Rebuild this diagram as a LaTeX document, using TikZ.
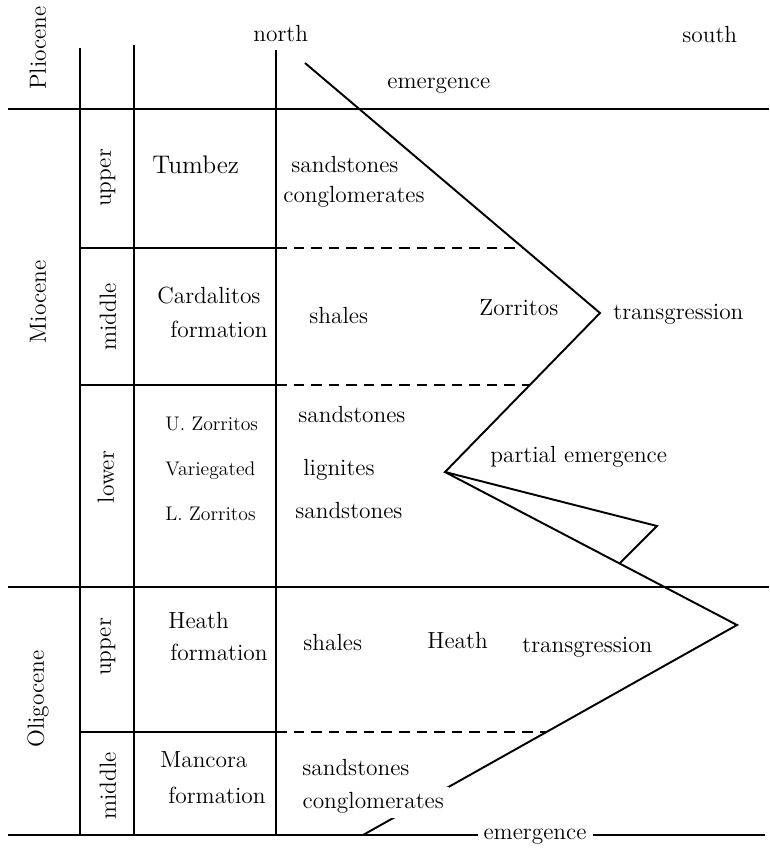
\documentclass[tikz,border=0pt]{standalone}
\usepackage{tikz}
\usetikzlibrary{positioning, calc}

\begin{document}
\begin{tikzpicture}[x=0.02cm, y=-0.02cm,
		rule/.style={line width=1.3pt},
		split/.style={line width=0.8pt, dash pattern=on 6pt off 4pt},
		curve/.style={line width=1.1pt, line join=miter},
		lbl/.style={anchor=base west, inner sep=0pt, font=\fontsize{13.3}{15}\selectfont},
		sml/.style={lbl, font=\fontsize{11.2}{13}\selectfont},
		side/.style={rotate=90, inner sep=0pt, font=\fontsize{13.3}{15}\selectfont}]

		\useasboundingbox (0,0) rectangle (769,849);

		% frame
		\draw[rule] (8,109) -- (769,109);
		\draw[rule] (8,587) -- (769,587);
		\draw[rule] (80,48) -- (80,835);
		\draw[rule] (134,45) -- (134,835);
		\draw[rule] (276,50) -- (276,835);
		\draw[rule] (80,248) -- (276,248);
		\draw[rule] (80,385) -- (276,385);
		\draw[rule] (80,732) -- (276,732);

		% zig-zag
		\coordinate (z0) at (305,63);
		\coordinate (z1) at (600,313);
		\coordinate (z2) at (445,472);
		\coordinate (z3) at (657,526);
		\coordinate (z4) at (620,563);
		\coordinate (z5) at (737,625);
		\coordinate (z6) at (363,835);

		\draw[split] (276,248) -- (523,248);
		\draw[split] (276,385) -- (530,385);
		\draw[split] (276,732) -- (546,732);

		\draw[curve] (z0) -- (z1) -- (z2) -- (z3) -- (z4);
		\draw[curve] (z2) -- (z5) -- (z6);

		% ages
		\node[side] (plio) at (38,48) {Pliocene};
		\node[side] (mio) at (38,302) {Miocene};
		\node[side] (oligo) at (38,699) {Oligocene};
		\node[side] (mioup) at (108,178) {upper};
		\node[side] (miomid) at (108,317) {middle};
		\node[side] (miolow) at (106,477) {lower};
		\node[side] (oliup) at (108,647) {upper};
		\node[side] (olimid) at (108,786) {middle};

		% formations
		\node[lbl, font=\fontsize{14.5}{16}\selectfont] (tumbez) at (152,173) {Tumbez};
		\node[lbl] (card) at (157,303) {Cardalitos};
		\node[lbl] (cardf) at (170,337) {formation};
		\node[sml] (uzor) at (165,430) {U. Zorritos};
		\node[sml] (vari) at (165,475) {Variegated};
		\node[sml] (lzor) at (165,520) {L. Zorritos};
		\node[lbl] (heath) at (168,628) {Heath};
		\node[lbl] (heathf) at (170,660) {formation};
		\node[lbl] (manc) at (160,767) {Mancora};
		\node[lbl] (mancf) at (168,803) {formation};

		% rocks
		\node[lbl] (north) at (253,41) {north};
		\node[lbl] (south) at (682,42) {south};
		\node[lbl] (emtop) at (387,88) {emergence};
		\node[lbl] (sand1) at (291,172) {sandstones};
		\node[lbl] (cong1) at (283,202) {conglomerates};
		\node[lbl] (shale1) at (309,323) {shales};
		\node[lbl] (zorr) at (479,315) {Zorritos};
		\node[lbl] (trans1) at (613,319) {transgression};
		\node[lbl] (sand2) at (298,422) {sandstones};
		\node[lbl] (lign) at (303,475) {lignites};
		\node[lbl] (sand3) at (295,518) {sandstones};
		\node[lbl] (partial) at (490,462) {partial emergence};
		\node[lbl] (shale2) at (303,650) {shales};
		\node[lbl] (heath2) at (427,648) {Heath};
		\node[lbl] (trans2) at (522,652) {transgression};
		\node[lbl] (sand4) at (302,775) {sandstones};
		\node[lbl, fill=white, inner sep=3pt] (cong2) at (297,808) {conglomerates};

		% base line
		\node[lbl, anchor=base] (embot) at (535,839) {emergence};
		\draw[rule] (8,835) -- (478,835);
		\draw[rule] (593,835) -- (765,835);

	\end{tikzpicture}
\end{document}
